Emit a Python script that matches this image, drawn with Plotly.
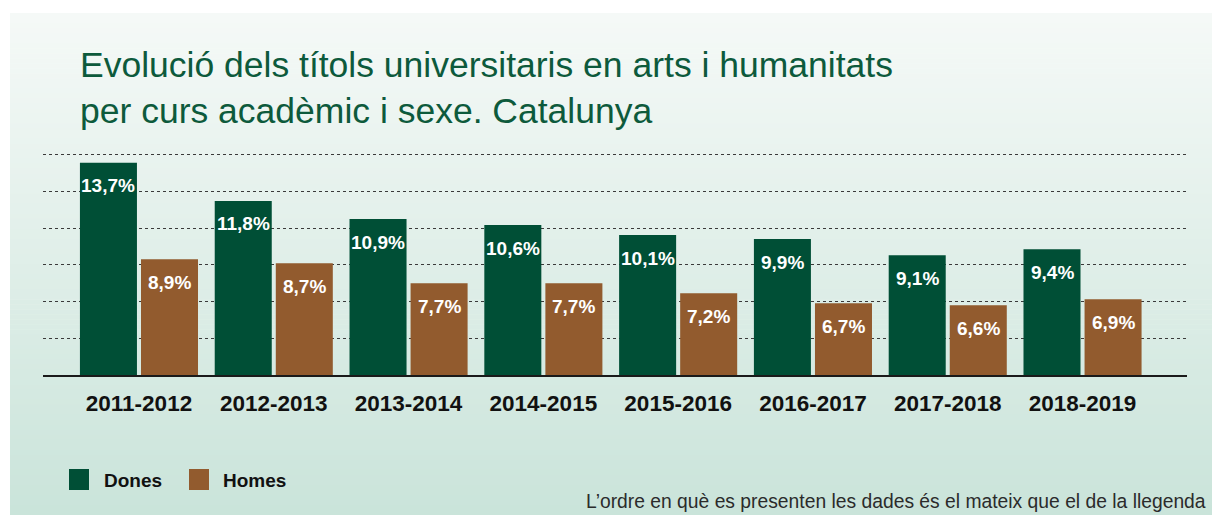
import plotly.graph_objects as go

# ---- data ----
courses = ["2011-2012", "2012-2013", "2013-2014", "2014-2015",
           "2015-2016", "2016-2017", "2017-2018", "2018-2019"]
dones = [13.7, 11.8, 10.9, 10.6, 10.1, 9.9, 9.1, 9.4]
homes = [8.9, 8.7, 7.7, 7.7, 7.2, 6.7, 6.6, 6.9]
series_names = ["Dones", "Homes"]
title_lines = ["Evolució dels títols universitaris en arts i humanitats",
               "per curs acadèmic i sexe. Catalunya"]
footnote = "L’ordre en què es presenten les dades és el mateix que el de la llegenda"

# ---- style ----
C_DONES = "#004f36"
C_HOMES = "#925b2e"
C_TITLE = "#0d5a3c"
FONT = "Liberation Sans, Arial, sans-serif"
W, H = 1212, 515
ML, MR, MT, MB = 43, 25, 153, 140
PW, PH = W - ML - MR, H - MT - MB

def px(xp):
    return (xp - ML) / PW

def py(yp):
    return (H - MB - yp) / PH

Y0 = 3.13
DT = 1.827
YTOP = Y0 + 6 * DT
YMAX = YTOP + DT * 2 / 37

fig = go.Figure()
fig.add_bar(x=courses, y=dones, name=series_names[0], marker_color=C_DONES,
            width=0.423, offset=-0.438, marker_line_width=0, showlegend=False)
fig.add_bar(x=courses, y=homes, name=series_names[1], marker_color=C_HOMES,
            width=0.423, offset=0.015, marker_line_width=0, showlegend=False)

annotations = []
label_font = dict(family=FONT, size=19, color="white", weight="bold")
for c, v in zip(courses, dones):
    annotations.append(dict(x=c, y=v, xref="x", yref="y", xshift=-30.5, yshift=-23,
                            text=f"{v:.1f}%".replace(".", ","), showarrow=False,
                            font=label_font, yanchor="middle"))
for c, v in zip(courses, homes):
    annotations.append(dict(x=c, y=v, xref="x", yref="y", xshift=30.5, yshift=-23,
                            text=f"{v:.1f}%".replace(".", ","), showarrow=False,
                            font=label_font, yanchor="middle"))

# title
annotations.append(dict(x=px(78), y=py(88), xref="paper", yref="paper",
                        xanchor="left", yanchor="middle", align="left",
                        text="<br>".join(title_lines), showarrow=False,
                        font=dict(family=FONT, size=35.5, color=C_TITLE)))
# footnote
annotations.append(dict(x=px(1208), y=py(501), xref="paper", yref="paper",
                        xanchor="right", yanchor="middle",
                        text=footnote, showarrow=False,
                        font=dict(family=FONT, size=19.3, color="#2b2b2b")))

shapes = []
# gradient background
top, bot = 13, 515
n = 100
c0 = (245, 249, 247)
c1 = (202, 228, 218)
for i in range(n):
    t = i / (n - 1)
    col = tuple(round(a + (b - a) * t) for a, b in zip(c0, c1))
    y_a = top + (bot - top) * i / n
    y_b = top + (bot - top) * (i + 1) / n + 0.6
    shapes.append(dict(type="rect", xref="paper", yref="paper",
                       x0=px(10), x1=px(1212), y0=py(y_b), y1=py(y_a),
                       fillcolor=f"rgb{col}", line_width=0, layer="below"))

# legend
leg = [(69, 102, C_DONES, series_names[0]), (189, 221, C_HOMES, series_names[1])]
for sx, tx, col, name in leg:
    shapes.append(dict(type="rect", xref="paper", yref="paper",
                       x0=px(sx), x1=px(sx + 20), y0=py(490), y1=py(469),
                       fillcolor=col, line_width=0))
    annotations.append(dict(x=px(tx), y=py(480), xref="paper", yref="paper",
                            xanchor="left", yanchor="middle", text=name, showarrow=False,
                            font=dict(family=FONT, size=19, color="#111", weight="bold")))

fig.update_layout(
    width=W, height=H,
    margin=dict(l=ML, r=MR, t=MT, b=MB, pad=0),
    paper_bgcolor="white",
    plot_bgcolor="rgba(0,0,0,0)",
    barmode="group",
    annotations=annotations,
    shapes=shapes,
    xaxis=dict(type="category", range=[-0.712, 7.775], showgrid=False,
               showline=True, linecolor="#1a1a1a", linewidth=2,
               ticks="", tickfont=dict(family=FONT, size=22.5, color="#111", weight="bold"),
               ticklabelstandoff=7),
    yaxis=dict(range=[Y0, YMAX], tick0=Y0, dtick=DT, showticklabels=False,
               showgrid=True, gridcolor="#3a3a3a", griddash="dot", gridwidth=1,
               zeroline=False, showline=False, ticks=""),
)

fig.write_html("out.html", config={"displayModeBar": False},
               post_script="document.body.style.margin='0';")
